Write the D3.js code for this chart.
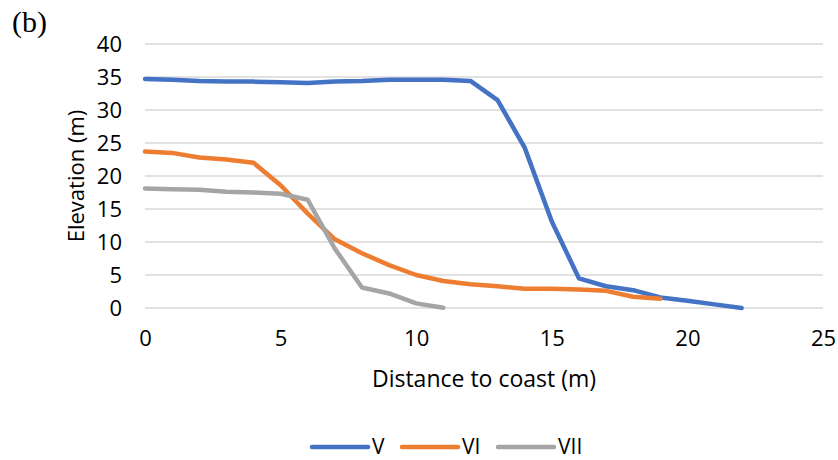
<!DOCTYPE html>
<html>
<head>
<meta charset="utf-8">
<script src="https://cdn.jsdelivr.net/npm/d3@7"></script>
<style>
  html, body { margin: 0; padding: 0; background: #ffffff; }
  svg { display: block; }
  .tick text { font-family: "Open Sans", "Liberation Sans", sans-serif; }
</style>
</head>
<body>
<svg id="chart" width="838" height="460"></svg>
<script>
// Cross-shore elevation profiles
const distance = d3.range(0, 23);             // metres from the coast
const profileV   = [34.7, 34.6, 34.4, 34.3, 34.3, 34.2, 34.1, 34.3, 34.4, 34.6, 34.6, 34.6, 34.4,
                    31.5, 24.3, 13.1, 4.5, 3.3, 2.7, 1.6, 1.1, 0.55, 0.0];
const profileVI  = [23.7, 23.5, 22.8, 22.5, 22.0, 18.6, 14.3, 10.4, 8.3, 6.5, 5.0, 4.1, 3.6,
                    3.3, 2.9, 2.9, 2.8, 2.6, 1.7, 1.4];
const profileVII = [18.1, 18.0, 17.9, 17.6, 17.5, 17.3, 16.4, 9.0, 3.1, 2.2, 0.7, 0.05];

const seriesNames  = ["V", "VI", "VII"];
const seriesColors = ["#4472C4", "#ED7D31", "#A5A5A5"];
const seriesValues = [profileV, profileVI, profileVII];

const xTicks = [0, 5, 10, 15, 20, 25];
const yTicks = [0, 5, 10, 15, 20, 25, 30, 35, 40];

const svg = d3.select("#chart");
const font = '"Open Sans", "Liberation Sans", sans-serif';
const fontSize = 22;

const x = d3.scaleLinear().domain([0, 25]).range([145, 823]);
const y = d3.scaleLinear().domain([0, 40]).range([308, 44]);

// horizontal gridlines
svg.append("g")
  .selectAll("line")
  .data(yTicks)
  .join("line")
  .attr("x1", x(0)).attr("x2", x(25))
  .attr("y1", d => y(d)).attr("y2", d => y(d))
  .attr("stroke", "#D9D9D9")
  .attr("stroke-width", 1.3);

// y axis labels
const yAxis = svg.append("g")
  .attr("transform", `translate(${x(0)},0)`)
  .call(d3.axisLeft(y).tickValues(yTicks).tickSize(0).tickPadding(23));
yAxis.select(".domain").remove();
yAxis.selectAll("text")
  .attr("font-size", fontSize)
  .attr("fill", "#000");

// x axis labels
const xAxis = svg.append("g")
  .attr("transform", `translate(0,${y(0)})`)
  .call(d3.axisBottom(x).tickValues(xTicks).tickSize(0).tickPadding(22));
xAxis.select(".domain").remove();
xAxis.selectAll("text")
  .attr("font-size", fontSize)
  .attr("fill", "#000");

// profile lines
const line = d3.line()
  .x((d, i) => x(distance[i]))
  .y(d => y(d));

svg.append("g")
  .selectAll("path")
  .data(seriesValues)
  .join("path")
  .attr("d", d => line(d))
  .attr("fill", "none")
  .attr("stroke", (d, i) => seriesColors[i])
  .attr("stroke-width", 4.5)
  .attr("stroke-linejoin", "round")
  .attr("stroke-linecap", "round");

// axis titles
svg.append("text")
  .attr("x", (x(0) + x(25)) / 2)
  .attr("y", 387)
  .attr("text-anchor", "middle")
  .attr("font-family", font)
  .attr("font-size", 23)
  .attr("fill", "#000")
  .text("Distance to coast (m)");

svg.append("text")
  .attr("transform", `translate(84,${(y(0) + y(40)) / 2}) rotate(-90)`)
  .attr("text-anchor", "middle")
  .attr("font-family", font)
  .attr("font-size", fontSize)
  .attr("fill", "#000")
  .text("Elevation (m)");

// panel label
svg.append("text")
  .attr("x", 12)
  .attr("y", 32)
  .attr("font-family", '"Liberation Serif", "DejaVu Serif", serif')
  .attr("font-size", 30)
  .attr("fill", "#000")
  .text("(b)");

// legend
const legendX = [312, 402, 498];
const legend = svg.append("g")
  .selectAll("g")
  .data(seriesNames)
  .join("g")
  .attr("transform", (d, i) => `translate(${legendX[i]},447)`);

legend.append("line")
  .attr("x1", 0).attr("x2", 56)
  .attr("y1", 0).attr("y2", 0)
  .attr("stroke", (d, i) => seriesColors[i])
  .attr("stroke-width", 4.5)
  .attr("stroke-linecap", "round");

legend.append("text")
  .attr("x", 60)
  .attr("y", 6.5)
  .attr("font-family", font)
  .attr("font-size", 21)
  .attr("fill", "#000")
  .text(d => d);
</script>
</body>
</html>
